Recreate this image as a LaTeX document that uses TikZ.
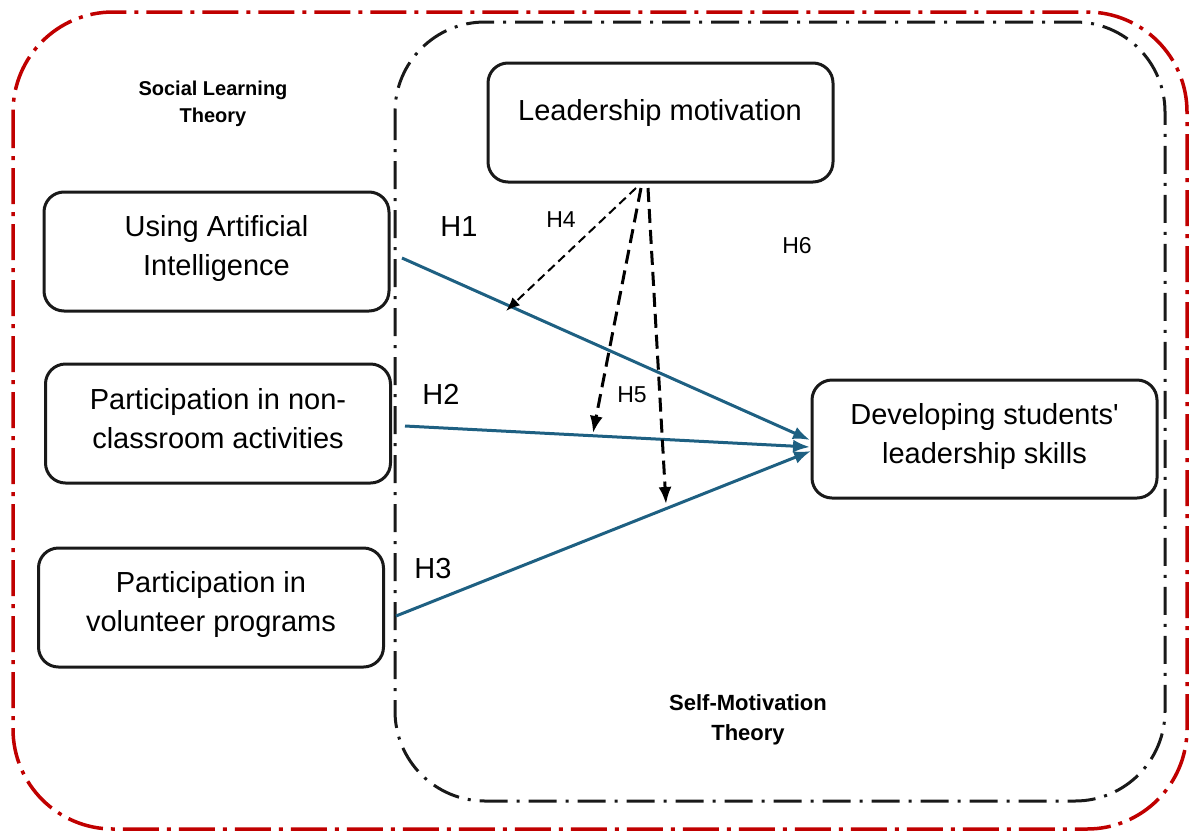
\documentclass[tikz,border=0pt]{standalone}
\usepackage{fontspec}
\setmainfont{Liberation Sans}
\usetikzlibrary{arrows.meta}
\definecolor{redline}{RGB}{192,0,0}
\definecolor{bluearrow}{RGB}{30,96,130}
\tikzset{
  box/.style={draw=black!90, line width=3pt, rounded corners=20pt, fill=white,
    minimum width=345pt, minimum height=119pt, inner sep=0pt},
  boxtext/.style={align=center, inner sep=0pt, font=\fontsize{29}{39}\selectfont},
  theory/.style={align=center, font=\bfseries\fontsize{20}{27}\selectfont},
  hlab/.style={font=\fontsize{29}{34}\selectfont, inner sep=0pt},
  hsmall/.style={font=\fontsize{23}{28}\selectfont, inner sep=0pt},
  bluearr/.style={draw=bluearrow, line width=3pt, -{Latex[length=17pt,width=13pt]}},
  modthin/.style={draw=black, line width=2pt, dash pattern=on 9pt off 5pt, -{Latex[length=14pt,width=11pt]}},
  modthick/.style={draw=black, line width=3pt, dash pattern=on 14pt off 7pt, -{Latex[length=17pt,width=13pt]}},
  redframe/.style={draw=redline, line width=3.5pt, rounded corners=100pt, dash pattern=on 36pt off 8pt on 4pt off 8pt},
  blackframe/.style={draw=black!90, line width=3pt, rounded corners=90pt, dash pattern=on 28pt off 9pt on 3pt off 9pt}
}
\begin{document}
\begin{tikzpicture}[x=1pt,y=-1pt]
\useasboundingbox (0,0) rectangle (1190,833);
% frames
\draw[redframe] (13,12) rectangle (1187,829);
\draw[blackframe] (395,22) rectangle (1165,801);
% theory labels
\node[theory] (slt) at (213,104) {Social Learning\\Theory};
\node[theory, font=\bfseries\fontsize{22}{30}\selectfont] (smt) at (748,720) {Self-Motivation\\Theory};
% boxes
\node[box] (lm) at (660.5,122.5) {};
\node[boxtext] (lmt) at (660,113) {Leadership motivation};
\node[box] (b1) at (216.5,251.5) {};
\node[boxtext] (b1t) at (216.5,248.5) {Using Artificial\\Intelligence};
\node[box] (b2) at (218,423.5) {};
\node[boxtext] (b2t) at (218,418.5) {Participation in non-\\classroom activities};
\node[box] (b3) at (211,607.5) {};
\node[boxtext] (b3t) at (211,604.5) {Participation in\\volunteer programs};
\node[box, minimum height=118pt] (dev) at (984.5,439) {};
\node[boxtext] (devt) at (984.5,436) {Developing students\textquotesingle\\leadership skills};
% connector points
\coordinate (s1) at (402,258);
\coordinate (s2) at (405,426);
\coordinate (s3) at (396,616);
\coordinate (e1) at (810,440);
\coordinate (e2) at (810,447);
\coordinate (e3) at (811,451);
\coordinate (m4) at (636,188);
\coordinate (m5) at (641,188);
\coordinate (m6) at (648,188);
\coordinate (t4) at (506,311);
\coordinate (t5) at (593,433);
\coordinate (t6) at (666,504);
% blue arrows
\draw[bluearr] (s1) -- (e1);
\draw[bluearr] (s2) -- (e2);
\draw[bluearr] (s3) -- (e3);
% moderation arrows
\draw[modthin] (m4) -- (t4);
\draw[modthick] (m5) -- (t5);
\draw[modthick] (m6) -- (t6);
% hypothesis labels
\node[hlab] (h1) at (459,227) {H1};
\node[hlab] (h2) at (441,394) {H2};
\node[hlab] (h3) at (433,569) {H3};
\node[hsmall] (h4) at (561,220) {H4};
\node[hsmall] (h5) at (632,395) {H5};
\node[hsmall] (h6) at (797,246) {H6};
\end{tikzpicture}
\end{document}
